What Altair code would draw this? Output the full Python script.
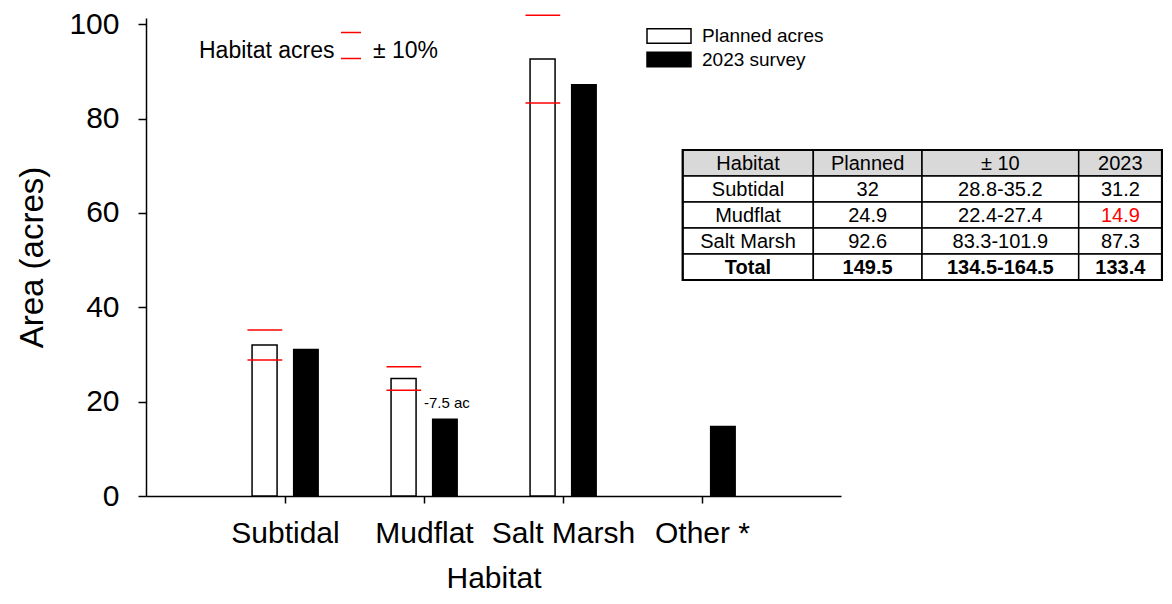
import pandas as pd
import altair as alt

# Habitat categories along the x axis (positions 1..4)
categories = ["Subtidal", "Mudflat", "Salt Marsh", "Other *"]

# Planned acres and the 2023 survey
planned_acres = [32.0, 24.9, 92.6, None]
survey_acres = [31.2, 16.4, 87.3, 14.9]

# +/- 10% band around the planned acres
low_acres = [28.8, 22.4, 83.3, None]
high_acres = [35.2, 27.4, 101.9, None]

# Text next to the mudflat bars
mudflat_note = "-7.5 ac"

# Summary table
table_header = ["Habitat", "Planned", "± 10", "2023"]
table_habitat = ["Subtidal", "Mudflat", "Salt Marsh", "Total"]
table_planned = ["32", "24.9", "92.6", "149.5"]
table_range = ["28.8-35.2", "22.4-27.4", "83.3-101.9", "134.5-164.5"]
table_2023 = ["31.2", "14.9", "87.3", "133.4"]

series_names = ["Planned acres", "2023 survey"]
y_ticks = [0, 20, 40, 60, 80, 100]

FONT = "Liberation Sans"

# Build the main data frames
bars = pd.DataFrame({
    "habitat": categories,
    "pos": list(range(1, len(categories) + 1)),
    "planned": planned_acres,
    "survey": survey_acres,
    "low": low_acres,
    "high": high_acres,
})
limits = (bars.melt(id_vars=["habitat", "pos"], value_vars=["low", "high"],
                    var_name="bound", value_name="acres")
          .dropna())

labels = "[" + ",".join("'" + c + "'" for c in [""] + categories) + "][datum.value]"

x_scale = alt.Scale(domain=[0, 5], nice=False, zero=False)
y_scale = alt.Scale(domain=[0, 101.3], nice=False)

x_axis = alt.Axis(values=[1, 2, 3, 4], labelExpr=labels, grid=False,
                  tickSize=7, labelPadding=15, labelFontSize=30, labelOverlap=False,
                  titleFontSize=30, titlePadding=15, titleFontWeight="normal",
                  domainColor="black", tickColor="black", labelColor="black",
                  titleColor="black", domainWidth=1.5, tickWidth=1.5)
y_axis = alt.Axis(values=y_ticks, grid=False, tickSize=8, labelPadding=19,
                  labelFontSize=30, titleFontSize=33, titlePadding=19,
                  titleFontWeight="normal", domainColor="black", tickColor="black",
                  labelColor="black", titleColor="black", domainWidth=1.5, tickWidth=1.5)

# Planned acres: open bars left of the tick
planned_bars = (alt.Chart(bars.dropna(subset=["planned"]))
    .transform_calculate(x0="datum.pos - 0.237", x1="datum.pos - 0.057")
    .mark_bar(fill="white", stroke="black", strokeWidth=1.5)
    .encode(
        x=alt.X("x0:Q", scale=x_scale, axis=x_axis, title="Habitat"),
        x2="x1:Q",
        y=alt.Y("planned:Q", scale=y_scale, axis=y_axis, title="Area (acres)"),
        y2=alt.datum(0),
    )
)

# 2023 survey: filled bars right of the tick
survey_bars = (alt.Chart(bars)
    .transform_calculate(x0="datum.pos + 0.057", x1="datum.pos + 0.244")
    .mark_bar(color="black")
    .encode(x="x0:Q", x2="x1:Q", y="survey:Q", y2=alt.datum(0))
)

# Red +/- 10% lines over the planned bars
limit_lines = (alt.Chart(limits)
    .transform_calculate(x0="datum.pos - 0.27", x1="datum.pos - 0.02")
    .mark_rule(color="red", strokeWidth=1.5)
    .encode(x="x0:Q", x2="x1:Q", y="acres:Q")
)

# Shortfall note next to the mudflat survey bar
note = (alt.Chart(pd.DataFrame({"pos": [2], "acres": [19.8], "note": [mudflat_note]}))
    .mark_text(align="left", baseline="middle", fontSize=15, dx=0)
    .encode(x="pos:Q", y="acres:Q", text="note:N")
)

# Key for the red lines, top left (pixel offsets from the plot's top-left corner)
key = pd.DataFrame({"k": [0]})
key_text = (alt.Chart(key).mark_text(align="left", fontSize=23, color="black")
    .encode(x=alt.value(53), y=alt.value(33), text=alt.value("Habitat acres")))
key_pm = (alt.Chart(key).mark_text(align="left", fontSize=23, color="black")
    .encode(x=alt.value(227), y=alt.value(33), text=alt.value("± 10%")))
key_top = (alt.Chart(key).mark_rule(color="red", strokeWidth=1.5)
    .encode(x=alt.value(195), x2=alt.value(215), y=alt.value(14.5)))
key_bottom = (alt.Chart(key).mark_rule(color="red", strokeWidth=1.5)
    .encode(x=alt.value(195), x2=alt.value(215), y=alt.value(40.5)))

# Legend for the two bar series, top right
legend = pd.DataFrame({"name": series_names})
legend["swatch"] = ["white", "black"]
legend["ly0"] = [10.7 + 23.6 * i for i in range(len(legend))]
legend["ly1"] = legend["ly0"] + 14.5
legend["ly"] = legend["ly0"] + 7.5
legend_boxes = (alt.Chart(legend)
    .mark_rect(stroke="black", strokeWidth=1.5)
    .encode(
        x=alt.value(501), x2=alt.value(545),
        y=alt.Y("ly0:Q", scale=None, axis=None), y2="ly1:Q",
        fill=alt.Fill("swatch:N", scale=None),
    )
)
legend_text = (alt.Chart(legend)
    .mark_text(align="left", baseline="middle", fontSize=19, color="black")
    .encode(x=alt.value(556), y=alt.Y("ly:Q", scale=None, axis=None), text="name:N")
)

# Summary table on the right, laid out in pixels
col_edges = [536.7, 667.3, 776.0, 932.7, 1016.0]
row_edges = [132, 158, 184, 210, 236, 262]
table_rows = [table_header] + [list(r) for r in zip(table_habitat, table_planned, table_range, table_2023)]
cells = []
for r, row in enumerate(table_rows):
    for c, txt in enumerate(row):
        below = (0 < r < len(table_rows) - 1 and c == 3
                 and low_acres[r - 1] is not None and float(txt) < low_acres[r - 1])
        cells.append({
            "text": txt,
            "x0": col_edges[c], "x1": col_edges[c + 1],
            "y0": row_edges[r], "y1": row_edges[r + 1],
            "cx": (col_edges[c] + col_edges[c + 1]) / 2,
            "cy": (row_edges[r] + row_edges[r + 1]) / 2 + 0.5,
            "fill": "#d9d9d9" if r == 0 else "white",
            "color": "red" if below else "black",
            "bold": r == len(table_rows) - 1,
        })
cells = pd.DataFrame(cells)

table_cells = (alt.Chart(cells)
    .mark_rect(stroke="black", strokeWidth=1.5)
    .encode(
        x=alt.X("x0:Q", scale=None, axis=None), x2="x1:Q",
        y=alt.Y("y0:Q", scale=None, axis=None), y2="y1:Q",
        fill=alt.Fill("fill:N", scale=None),
    )
)
table_border = (alt.Chart(pd.DataFrame({"x0": [col_edges[0]], "x1": [col_edges[-1]],
                                        "y0": [row_edges[0]], "y1": [row_edges[-1]]}))
    .mark_rect(fill=None, stroke="black", strokeWidth=2.2)
    .encode(
        x=alt.X("x0:Q", scale=None, axis=None), x2="x1:Q",
        y=alt.Y("y0:Q", scale=None, axis=None), y2="y1:Q",
    )
)
table_text = (alt.Chart(cells)
    .transform_filter("!datum.bold")
    .mark_text(baseline="middle", fontSize=20)
    .encode(
        x=alt.X("cx:Q", scale=None, axis=None),
        y=alt.Y("cy:Q", scale=None, axis=None),
        text="text:N",
        color=alt.Color("color:N", scale=None),
    )
)
table_bold = (alt.Chart(cells)
    .transform_filter("datum.bold")
    .mark_text(baseline="middle", fontSize=20, fontWeight="bold", color="black")
    .encode(
        x=alt.X("cx:Q", scale=None, axis=None),
        y=alt.Y("cy:Q", scale=None, axis=None),
        text="text:N",
    )
)

chart = (alt.layer(planned_bars, survey_bars, limit_lines, note,
                   key_text, key_pm, key_top, key_bottom,
                   legend_boxes, legend_text,
                   table_cells, table_border, table_text, table_bold)
    .properties(width=695, height=478,
                autosize=alt.AutoSizeParams(type="none"),
                padding={"left": 138, "top": 10, "right": 322, "bottom": 99})
    .configure(font=FONT)
    .configure_view(stroke=None)
)

chart.save("out.html", embed_options={"renderer": "svg", "actions": False})
